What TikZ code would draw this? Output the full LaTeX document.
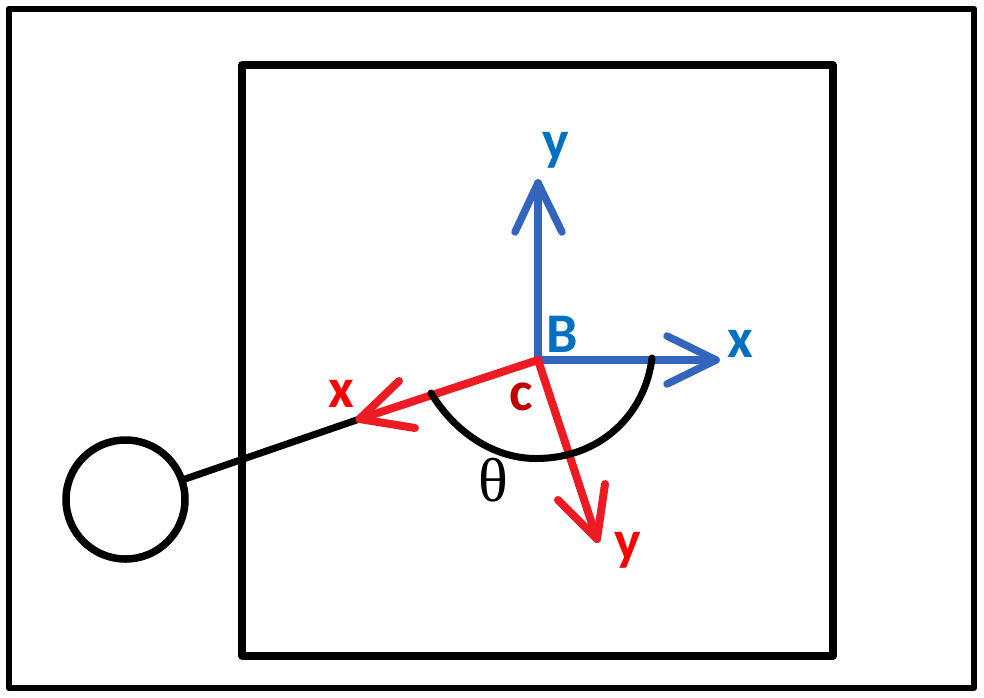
\documentclass[tikz,border=0pt]{standalone}
\usepackage{fontspec}
\setmainfont{Carlito}
\newfontfamily\thetafont{Liberation Serif}
\tikzset{
  frame/.style={draw=black,line width=6pt,line join=round},
  blueline/.style={draw=axisblue,line width=7.5pt,line cap=round,line join=round},
  redline/.style={draw=axisred,line width=8pt,line cap=round,line join=round},
  blackline/.style={draw=black,line width=7pt,line cap=round},
  lab/.style={font=\fontsize{56}{56}\selectfont\bfseries,inner sep=0pt},
}
\definecolor{axisblue}{HTML}{3465BC}
\definecolor{axisred}{HTML}{ED1C24}
\definecolor{labblue}{HTML}{0070C0}
\definecolor{labred}{HTML}{FF0000}
\definecolor{labdark}{HTML}{C00000}
\begin{document}
\begin{tikzpicture}[x=1pt,y=-1pt]
\useasboundingbox (0,0) rectangle (984,697);
\fill[white] (0,0) rectangle (984,697);
\draw[frame] (8.5,8.5) rectangle (974,688);
\draw[frame,line width=7.5pt] (242,65) rectangle (833,656);
\coordinate (o) at (538,360);
\coordinate (by) at (538,183);
\coordinate (byl) at (515,232);
\coordinate (byr) at (562,232);
\coordinate (bx) at (716,360);
\coordinate (bxl) at (667,336);
\coordinate (bxr) at (667,384);
\coordinate (rx) at (359.5,419);
\coordinate (rxl) at (399,381);
\coordinate (rxr) at (415,428);
\coordinate (ry) at (597,539);
\coordinate (ryl) at (558,500);
\coordinate (ryr) at (605,484);
\node[circle,draw=black,line width=7.5pt,minimum size=119pt,inner sep=0pt,outer sep=0pt] (ball) at (125.5,499.5) {};
\draw[blackline,line cap=butt] (ball) -- (rx);
\draw[blueline] (o) -- (by);
\draw[blueline] (byl) -- (by) -- (byr);
\draw[blueline] (o) -- (bx);
\draw[blueline] (bxl) -- (bx) -- (bxr);
\draw[redline] (o) -- (rx);
\draw[redline] (rxl) -- (rx) -- (rxr);
\draw[redline] (o) -- (ry);
\draw[redline] (ryl) -- (ry) -- (ryr);
\draw[blackline] (431,393) .. controls (452,428) and (490,458.5) .. (536,458.5) .. controls (600,458.5) and (645,415) .. (652,358);
\node[lab,text=labblue] (ly) at (555.5,150) {y};
\node[lab,text=labblue] (lb) at (562.5,334) {B};
\node[lab,text=labblue] (lx) at (740,344) {x};
\node[lab,text=labdark] (lc) at (521,397) {c};
\node[lab,text=labred] (lrx) at (341.5,394) {x};
\node[lab,text=labred] (lry) at (627.5,550) {y};
\node[inner sep=0pt,font=\fontsize{62}{62}\selectfont\thetafont] (lt) at (493,480) {θ};
\end{tikzpicture}
\end{document}
